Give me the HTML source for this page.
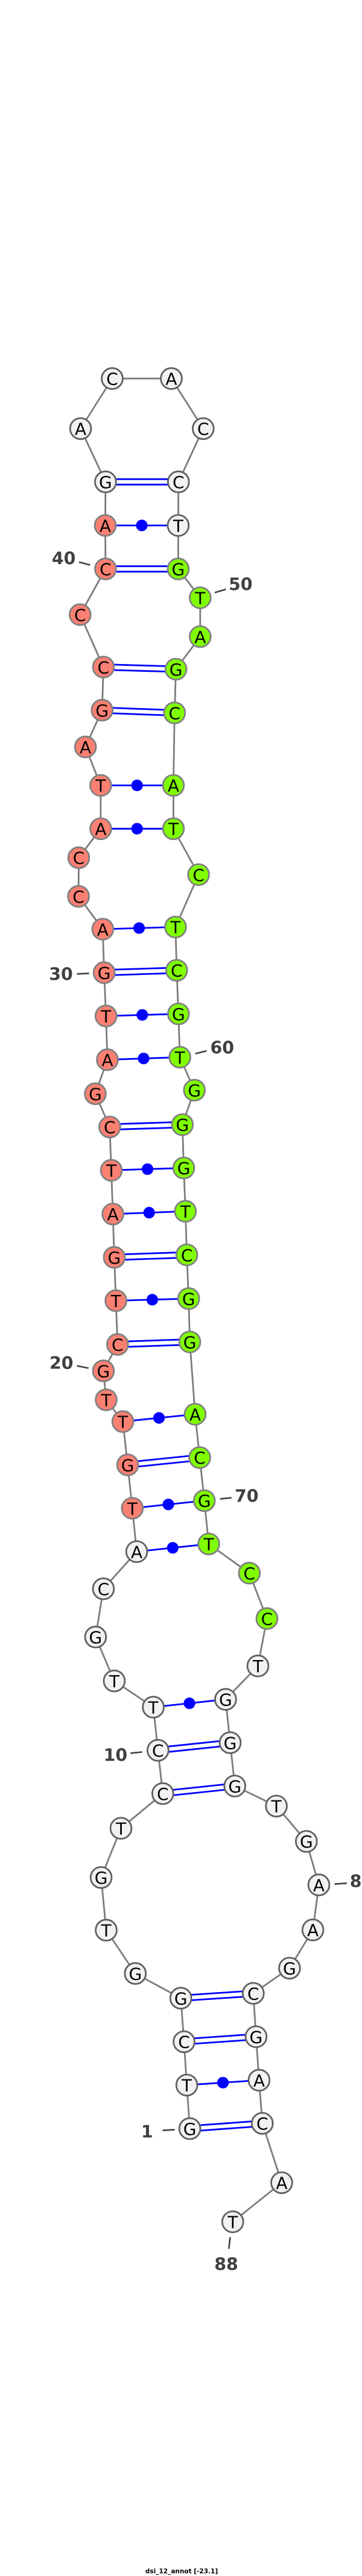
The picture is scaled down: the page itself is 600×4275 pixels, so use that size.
<!DOCTYPE html>
<html><head><meta charset="utf-8"><title>dsi_12_annot</title>
<style>
html,body{margin:0;padding:0;background:#fff;width:600px;height:4275px;overflow:hidden}
svg{display:block}
.b{fill:none;stroke:#7c7c7c;stroke-width:2.8}
.p{fill:none;stroke:#0000ff;stroke-width:2.8}
.d{fill:#0000ff}
.t{stroke:#404040;stroke-width:2.6;fill:none}
.g circle{fill:#f2f2f2;stroke:#606060;stroke-width:2.8}
.s circle{fill:#fa8072;stroke:#808080;stroke-width:2.8}
.c circle{fill:#7fff00;stroke:#808080;stroke-width:2.8}
.g text,.s text,.c text{font:28px "DejaVu Sans",sans-serif;fill:#000;text-anchor:middle;transform:translateY(1px)}
.l{font:bold 28.4px "DejaVu Sans",sans-serif;fill:#404040;text-anchor:middle}
.h{font:bold 10.5px "DejaVu Sans",sans-serif;fill:#000;text-anchor:middle}
</style></head><body>
<svg xmlns="http://www.w3.org/2000/svg" width="600" height="4275" viewBox="0 0 600 4275">
<rect width="600" height="4275" fill="#fff"/>
<polyline class="b" points="314.6,3532.6 309.6,3460.3 305,3388.4 299.7,3316.1 224.3,3275.1 176,3203.2 167.6,3115.8 200.5,3034.1 269.8,2976.6 261.8,2904.7 254.1,2833.1 189.4,2789.6 158.4,2716.7 171.4,2636.7 226.6,2575 219.3,2503 211.6,2431.1 203.6,2359.2 176,2323.1 171.4,2275.1 194.8,2231.2 192.1,2158.6 189.4,2086.7 187.1,2014.8 184.5,1942.2 181.8,1870.3 158,1815.2 178,1758.7 175.7,1686.1 172.6,1614.2 170.3,1542 130.1,1487.6 130.5,1423.4 166.9,1375.3 166.9,1303.4 141.6,1239.6 169.2,1178.6 171.4,1107 132.8,1020 174.9,944.2 174.5,872 174.9,799.7 133.6,711.3 186,628.2 284,628.2 336.8,711.3 295.8,799.7 295.4,872 295.4,944.2 331.8,992 331.8,1056.5 291.6,1110.5 289.3,1183.1 287.4,1303.4 287.4,1375.3 329.1,1451.5 290.9,1538.4 292.8,1610.3 295.8,1682.6 298.1,1754.5 322.2,1809.2 302.3,1866.4 304.6,1938.3 307.3,2010.2 309.6,2082.5 312.7,2155.1 314.6,2227 323.4,2347 331,2418.9 338.7,2490.4 346,2562.3 413.3,2610.7 442.4,2686.1 427.5,2764.7 373.9,2820.2 381.5,2892.1 389.2,2964 458.1,2997.3 507.8,3055.9 528.5,3128.1 518.6,3202.8 479.9,3266.3 419.8,3308.1 424.4,3380 429.4,3452.2 434.8,3523.8 466.9,3622.3 385.8,3687.2"/>
<path class="p" d="M314.6 3528.1L434.8 3519.3M314.6 3537.1L434.8 3528.3
M305 3383.9L424.4 3375.5M305 3392.9L424.4 3384.5
M299.7 3311.6L419.8 3303.6M299.7 3320.6L419.8 3312.6
M269.8 2972.1L389.2 2959.5M269.8 2981.1L389.2 2968.5
M261.8 2900.2L381.5 2887.6M261.8 2909.2L381.5 2896.6
M211.6 2426.6L331 2414.4M211.6 2435.6L331 2423.4
M194.8 2226.7L314.6 2222.5M194.8 2235.7L314.6 2231.5
M189.4 2082.2L309.6 2078M189.4 2091.2L309.6 2087
M181.8 1865.8L302.3 1861.9M181.8 1874.8L302.3 1870.9
M172.6 1609.7L292.8 1605.8M172.6 1618.7L292.8 1614.8
M169.2 1174.1L289.3 1178.6M169.2 1183.1L289.3 1187.6
M171.4 1102.5L291.6 1106M171.4 1111.5L291.6 1115
M174.9 939.7L295.4 939.7M174.9 948.7L295.4 948.7
M174.9 795.2L295.8 795.2M174.9 804.2L295.8 804.2"/>
<path class="p" d="M309.6 3460.3L429.4 3452.2M254.1 2833.1L373.9 2820.2M226.6 2575L346 2562.3M219.3 2503L338.7 2490.4M203.6 2359.2L323.4 2347M192.1 2158.6L312.7 2155.1M187.1 2014.8L307.3 2010.2M184.5 1942.2L304.6 1938.3M178 1758.7L298.1 1754.5M175.7 1686.1L295.8 1682.6M170.3 1542L290.9 1538.4M166.9 1375.3L287.4 1375.3M166.9 1303.4L287.4 1303.4M174.5 872L295.4 872"/>
<g class="d">
<circle cx="369.5" cy="3456.3" r="9.6"/><circle cx="314" cy="2826.7" r="9.6"/><circle cx="286.3" cy="2568.7" r="9.6"/><circle cx="279" cy="2496.7" r="9.6"/><circle cx="263.5" cy="2353.1" r="9.6"/><circle cx="252.4" cy="2156.9" r="9.6"/><circle cx="247.2" cy="2012.5" r="9.6"/><circle cx="244.5" cy="1940.3" r="9.6"/><circle cx="238" cy="1756.6" r="9.6"/><circle cx="235.8" cy="1684.3" r="9.6"/><circle cx="230.6" cy="1540.2" r="9.6"/><circle cx="227.2" cy="1375.3" r="9.6"/><circle cx="227.2" cy="1303.4" r="9.6"/><circle cx="235" cy="872" r="9.6"/>
</g>
<g class="g">
<circle cx="314.6" cy="3532.6" r="17.4"/><text x="314.6" y="3541.9">G</text>
<circle cx="309.6" cy="3460.3" r="17.4"/><text x="309.6" y="3469.6">T</text>
<circle cx="305" cy="3388.4" r="17.4"/><text x="305" y="3397.7">C</text>
<circle cx="299.7" cy="3316.1" r="17.4"/><text x="299.7" y="3325.4">G</text>
<circle cx="224.3" cy="3275.1" r="17.4"/><text x="224.3" y="3284.4">G</text>
<circle cx="176" cy="3203.2" r="17.4"/><text x="176" y="3212.5">T</text>
<circle cx="167.6" cy="3115.8" r="17.4"/><text x="167.6" y="3125.1">G</text>
<circle cx="200.5" cy="3034.1" r="17.4"/><text x="200.5" y="3043.4">T</text>
<circle cx="269.8" cy="2976.6" r="17.4"/><text x="269.8" y="2985.9">C</text>
<circle cx="261.8" cy="2904.7" r="17.4"/><text x="261.8" y="2914">C</text>
<circle cx="254.1" cy="2833.1" r="17.4"/><text x="254.1" y="2842.4">T</text>
<circle cx="189.4" cy="2789.6" r="17.4"/><text x="189.4" y="2798.9">T</text>
<circle cx="158.4" cy="2716.7" r="17.4"/><text x="158.4" y="2726">G</text>
<circle cx="171.4" cy="2636.7" r="17.4"/><text x="171.4" y="2646">C</text>
<circle cx="226.6" cy="2575" r="17.4"/><text x="226.6" y="2584.3">A</text>
<circle cx="174.9" cy="799.7" r="17.4"/><text x="174.9" y="809">G</text>
<circle cx="133.6" cy="711.3" r="17.4"/><text x="133.6" y="720.6">A</text>
<circle cx="186" cy="628.2" r="17.4"/><text x="186" y="637.5">C</text>
<circle cx="284" cy="628.2" r="17.4"/><text x="284" y="637.5">A</text>
<circle cx="336.8" cy="711.3" r="17.4"/><text x="336.8" y="720.6">C</text>
<circle cx="295.8" cy="799.7" r="17.4"/><text x="295.8" y="809">C</text>
<circle cx="295.4" cy="872" r="17.4"/><text x="295.4" y="881.3">T</text>
<circle cx="427.5" cy="2764.7" r="17.4"/><text x="427.5" y="2774">T</text>
<circle cx="373.9" cy="2820.2" r="17.4"/><text x="373.9" y="2829.5">G</text>
<circle cx="381.5" cy="2892.1" r="17.4"/><text x="381.5" y="2901.4">G</text>
<circle cx="389.2" cy="2964" r="17.4"/><text x="389.2" y="2973.3">G</text>
<circle cx="458.1" cy="2997.3" r="17.4"/><text x="458.1" y="3006.6">T</text>
<circle cx="507.8" cy="3055.9" r="17.4"/><text x="507.8" y="3065.2">G</text>
<circle cx="528.5" cy="3128.1" r="17.4"/><text x="528.5" y="3137.4">A</text>
<circle cx="518.6" cy="3202.8" r="17.4"/><text x="518.6" y="3212.1">A</text>
<circle cx="479.9" cy="3266.3" r="17.4"/><text x="479.9" y="3275.6">G</text>
<circle cx="419.8" cy="3308.1" r="17.4"/><text x="419.8" y="3317.4">C</text>
<circle cx="424.4" cy="3380" r="17.4"/><text x="424.4" y="3389.3">G</text>
<circle cx="429.4" cy="3452.2" r="17.4"/><text x="429.4" y="3461.5">A</text>
<circle cx="434.8" cy="3523.8" r="17.4"/><text x="434.8" y="3533.1">C</text>
<circle cx="466.9" cy="3622.3" r="17.4"/><text x="466.9" y="3631.6">A</text>
<circle cx="385.8" cy="3687.2" r="17.4"/><text x="385.8" y="3696.5">T</text>
</g>
<g class="s">
<circle cx="219.3" cy="2503" r="17.4"/><text x="219.3" y="2512.3">T</text>
<circle cx="211.6" cy="2431.1" r="17.4"/><text x="211.6" y="2440.4">G</text>
<circle cx="203.6" cy="2359.2" r="17.4"/><text x="203.6" y="2368.5">T</text>
<circle cx="176" cy="2323.1" r="17.4"/><text x="176" y="2332.4">T</text>
<circle cx="171.4" cy="2275.1" r="17.4"/><text x="171.4" y="2284.4">G</text>
<circle cx="194.8" cy="2231.2" r="17.4"/><text x="194.8" y="2240.5">C</text>
<circle cx="192.1" cy="2158.6" r="17.4"/><text x="192.1" y="2167.9">T</text>
<circle cx="189.4" cy="2086.7" r="17.4"/><text x="189.4" y="2096">G</text>
<circle cx="187.1" cy="2014.8" r="17.4"/><text x="187.1" y="2024.1">A</text>
<circle cx="184.5" cy="1942.2" r="17.4"/><text x="184.5" y="1951.5">T</text>
<circle cx="181.8" cy="1870.3" r="17.4"/><text x="181.8" y="1879.6">C</text>
<circle cx="158" cy="1815.2" r="17.4"/><text x="158" y="1824.5">G</text>
<circle cx="178" cy="1758.7" r="17.4"/><text x="178" y="1768">A</text>
<circle cx="175.7" cy="1686.1" r="17.4"/><text x="175.7" y="1695.4">T</text>
<circle cx="172.6" cy="1614.2" r="17.4"/><text x="172.6" y="1623.5">G</text>
<circle cx="170.3" cy="1542" r="17.4"/><text x="170.3" y="1551.3">A</text>
<circle cx="130.1" cy="1487.6" r="17.4"/><text x="130.1" y="1496.9">C</text>
<circle cx="130.5" cy="1423.4" r="17.4"/><text x="130.5" y="1432.7">C</text>
<circle cx="166.9" cy="1375.3" r="17.4"/><text x="166.9" y="1384.6">A</text>
<circle cx="166.9" cy="1303.4" r="17.4"/><text x="166.9" y="1312.7">T</text>
<circle cx="141.6" cy="1239.6" r="17.4"/><text x="141.6" y="1248.9">A</text>
<circle cx="169.2" cy="1178.6" r="17.4"/><text x="169.2" y="1187.9">G</text>
<circle cx="171.4" cy="1107" r="17.4"/><text x="171.4" y="1116.3">C</text>
<circle cx="132.8" cy="1020" r="17.4"/><text x="132.8" y="1029.3">C</text>
<circle cx="174.9" cy="944.2" r="17.4"/><text x="174.9" y="953.5">C</text>
<circle cx="174.5" cy="872" r="17.4"/><text x="174.5" y="881.3">A</text>
</g>
<g class="c">
<circle cx="295.4" cy="944.2" r="17.4"/><text x="295.4" y="953.5">G</text>
<circle cx="331.8" cy="992" r="17.4"/><text x="331.8" y="1001.3">T</text>
<circle cx="331.8" cy="1056.5" r="17.4"/><text x="331.8" y="1065.8">A</text>
<circle cx="291.6" cy="1110.5" r="17.4"/><text x="291.6" y="1119.8">G</text>
<circle cx="289.3" cy="1183.1" r="17.4"/><text x="289.3" y="1192.4">C</text>
<circle cx="287.4" cy="1303.4" r="17.4"/><text x="287.4" y="1312.7">A</text>
<circle cx="287.4" cy="1375.3" r="17.4"/><text x="287.4" y="1384.6">T</text>
<circle cx="329.1" cy="1451.5" r="17.4"/><text x="329.1" y="1460.8">C</text>
<circle cx="290.9" cy="1538.4" r="17.4"/><text x="290.9" y="1547.7">T</text>
<circle cx="292.8" cy="1610.3" r="17.4"/><text x="292.8" y="1619.6">C</text>
<circle cx="295.8" cy="1682.6" r="17.4"/><text x="295.8" y="1691.9">G</text>
<circle cx="298.1" cy="1754.5" r="17.4"/><text x="298.1" y="1763.8">T</text>
<circle cx="322.2" cy="1809.2" r="17.4"/><text x="322.2" y="1818.5">G</text>
<circle cx="302.3" cy="1866.4" r="17.4"/><text x="302.3" y="1875.7">G</text>
<circle cx="304.6" cy="1938.3" r="17.4"/><text x="304.6" y="1947.6">G</text>
<circle cx="307.3" cy="2010.2" r="17.4"/><text x="307.3" y="2019.5">T</text>
<circle cx="309.6" cy="2082.5" r="17.4"/><text x="309.6" y="2091.8">C</text>
<circle cx="312.7" cy="2155.1" r="17.4"/><text x="312.7" y="2164.4">G</text>
<circle cx="314.6" cy="2227" r="17.4"/><text x="314.6" y="2236.3">G</text>
<circle cx="323.4" cy="2347" r="17.4"/><text x="323.4" y="2356.3">A</text>
<circle cx="331" cy="2418.9" r="17.4"/><text x="331" y="2428.2">C</text>
<circle cx="338.7" cy="2490.4" r="17.4"/><text x="338.7" y="2499.7">G</text>
<circle cx="346" cy="2562.3" r="17.4"/><text x="346" y="2571.6">T</text>
<circle cx="413.3" cy="2610.7" r="17.4"/><text x="413.3" y="2620">C</text>
<circle cx="442.4" cy="2686.1" r="17.4"/><text x="442.4" y="2695.4">C</text>
</g>
<g class="t">
<line x1="130.9" y1="932.7" x2="149.3" y2="937.6"/>
<line x1="355.9" y1="983.5" x2="374.3" y2="977.9"/>
<line x1="127.4" y1="1616.3" x2="147.7" y2="1615.3"/>
<line x1="323.8" y1="1748.6" x2="342.5" y2="1744"/>
<line x1="127.4" y1="2266.6" x2="146.6" y2="2270.5"/>
<line x1="364.7" y1="2487.6" x2="383.8" y2="2485.5"/>
<line x1="216.2" y1="2909.6" x2="235.7" y2="2907.5"/>
<line x1="554.5" y1="3126.7" x2="574.8" y2="3125.3"/>
<line x1="269.4" y1="3535.4" x2="289.7" y2="3534.3"/>
<line x1="381.5" y1="3712.8" x2="379.2" y2="3732.1"/>
</g>
<text class="l" x="105.6" y="936.6">40</text>
<text class="l" x="398.8" y="979.7">50</text>
<text class="l" x="101" y="1626.5">30</text>
<text class="l" x="368.2" y="1748.6">60</text>
<text class="l" x="101.8" y="2271.9">20</text>
<text class="l" x="408.7" y="2492.6">70</text>
<text class="l" x="191.4" y="2922.6">10</text>
<text class="l" x="599.5" y="3132">80</text>
<text class="l" x="243.8" y="3547.7">1</text>
<text class="l" x="375" y="3767.6">88</text>
<text class="h" x="301" y="4270.5">dsi_12_annot [-23.1]</text>
</svg>
</body></html>
